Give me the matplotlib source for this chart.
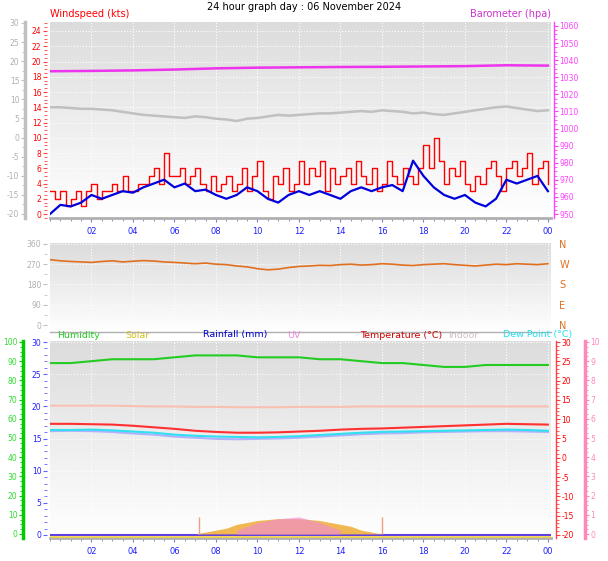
import matplotlib
matplotlib.use("Agg")
import matplotlib.pyplot as plt
import numpy as np
from matplotlib.ticker import MultipleLocator
plt.rcParams["axes.unicode_minus"] = False

hours_hh = np.arange(0, 24.01, 0.5)
hours_q = np.arange(0, 24.01, 0.25)
hours_h = np.arange(0, 25, 1)
hours_2h = np.arange(0, 25, 2)

gust = [3,2,3,1,2,3,1,3,4,2, 3,3,4,3,5,3,3,4,4,5, 6,4,8,5,5,6,4,5,6,4, 3,5,3,4,5,3,4,6,3,5,
        7,3,2,5,4,6,3,4,7,4, 6,5,7,3,6,4,5,6,4,7, 5,4,6,3,4,7,5,4,6,5, 4,6,9,6,10,7,4,6,5,7,
        4,3,5,4,6,7,5,3,6,7, 5,6,8,4,6,7,4]
wind_avg = [0,1.2,1.0,1.5,2.5,2,2.5,3,2.8,3.5,4,4.5,3.5,4,3,3.2,2.5,2,2.5,3.5,3,2,1.5,2.5,3,2.5,
            3,2.5,2,3,3.5,3,3.5,3.8,3,7,5,3.5,2.5,2,2.5,1.5,1,2,4.5,4,4.5,5,3]
gray_line = [14,14,13.9,13.8,13.8,13.7,13.6,13.4,13.2,13,12.9,12.8,12.7,12.6,12.8,12.7,12.5,12.4,
             12.2,12.5,12.6,12.8,13,12.9,13,13.1,13.2,13.2,13.3,13.4,13.5,13.4,13.6,13.5,13.4,13.2,
             13.3,13.1,13,13.2,13.4,13.6,13.8,14,14.1,13.9,13.7,13.5,13.6]
baro = [1033.5,1033.7,1034,1034.5,1035.2,1035.6,1035.8,1036,1036.1,1036.3,1036.5,1037,1036.8]
wdir = [290,285,282,280,278,282,285,280,283,286,284,280,278,275,272,275,270,268,262,258,250,245,
        248,255,260,262,265,264,268,270,266,268,272,270,266,264,268,270,272,268,265,262,266,270,
        268,272,270,268,272]
temp = [8.8,8.8,8.7,8.6,8.3,7.9,7.5,7.0,6.7,6.5,6.5,6.6,6.8,7.0,7.3,7.5,7.6,7.8,8.0,8.2,8.4,8.6,8.8,8.7,8.6]
dew = [7.2,7.2,7.3,7.1,6.8,6.5,6.0,5.7,5.5,5.4,5.3,5.4,5.6,5.9,6.2,6.5,6.7,6.8,6.9,7.0,7.1,7.2,7.3,7.2,7.0]
feels = [6.9,7.0,6.9,6.7,6.3,6.0,5.5,5.2,4.9,4.8,4.9,5.0,5.2,5.5,5.8,6.1,6.3,6.4,6.6,6.7,6.8,6.9,6.9,6.8,6.7]
indoor = [13.5,13.5,13.5,13.5,13.4,13.3,13.3,13.2,13.2,13.1,13.1,13.1,13.2,13.2,13.2,13.3,13.3,13.3,13.3,13.3,13.3,13.3,13.3,13.3,13.3]
humidity = [89,89,90,91,91,91,92,93,93,93,92,92,92,91,91,90,89,89,88,87,87,88,88,88,88]
solar_hours = [7.0,7.5,8,8.5,9,9.5,10,10.5,11,11.5,12,12.5,13,13.5,14,14.5,15,15.5,16]
solar = [0,1,2,3,5,6,7,7.5,8,8,8,7.5,7,6,5,4,2,1,0]
uv_hours = [9,10,11,12,13,14]
uv = [0.2,0.6,0.8,0.9,0.6,0.2]
spike_hours = [7.2, 16.0]
spike_heights = [9, 9]
xlabels = ["02","04","06","08","10","12","14","16","18","20","22","00"]

W, H = 608, 561
fig = plt.figure(figsize=(W/100, H/100), dpi=100)
fig.patch.set_facecolor("white")

def mkax(top, bot):
    return fig.add_axes([50/W, 1-bot/H, 501/W, (bot-top)/H])

grad = np.linspace(0, 1, 100).reshape(-1, 1)
from matplotlib.colors import LinearSegmentedColormap
cm = LinearSegmentedColormap.from_list("g", ["#dcdcdc", "#ffffff"])

def style(ax, labels=True):
    ax.imshow(grad, extent=[0, 1, 0, 1], transform=ax.transAxes, cmap=cm, aspect="auto", zorder=0)
    ax.set_xlim(0, 24.15)
    ax.set_xticks(np.arange(2, 25, 2))
    ax.xaxis.set_minor_locator(MultipleLocator(0.5))
    ax.set_xticklabels(xlabels if labels else [], fontsize=6, color="#2020ff")
    ax.tick_params(axis="x", which="both", colors="#8080c0", labelcolor="#2020ff", length=3)
    ax.tick_params(axis="x", which="minor", length=2)
    ax.grid(True, color="white", linestyle=":", linewidth=0.8)
    for s in ["top", "right"]:
        ax.spines[s].set_visible(False)
    ax.spines["left"].set_visible(False)
    ax.spines["bottom"].set_color("#b0b0b0")
    ax.spines["bottom"].set_linewidth(2)

def side(ax, pos, color, lw=1.0, label_color=None, side_="left"):
    ax.spines[side_].set_visible(True)
    ax.spines[side_].set_position(("axes", pos))
    ax.spines[side_].set_color(color)
    ax.spines[side_].set_linewidth(lw)
    ax.yaxis.set_ticks_position(side_)
    ax.tick_params(axis="y", which="both", colors=color, labelcolor=label_color or color,
                   labelsize=5.5, length=3, pad=1)
    ax.tick_params(axis="y", which="minor", length=2)

# ---------- top panel ----------
ax1 = mkax(22, 218)
style(ax1)
ax1.set_ylim(-0.52, 25.18)
ax1.set_yticks(np.arange(0, 25, 2))
ax1.yaxis.set_minor_locator(MultipleLocator(0.5))
side(ax1, -0.006, "#ff4040", 1.0, "#ff0000")
ax1.spines["left"].set_visible(False)
ax1.step(hours_q, gust, where="post", color="#ff0000", lw=1.0, zorder=3)
ax1.plot(hours_hh, wind_avg, color="#0000dd", lw=1.6, zorder=4)
ax1.plot(hours_hh, gray_line, color="#c0c0c0", lw=1.8, zorder=2)

axg = ax1.twinx()
axg.set_ylim(-21.05, 30.26)
axg.set_yticks(np.arange(-20, 31, 5))
axg.yaxis.set_minor_locator(MultipleLocator(2.5))
for s in ["top", "right", "bottom"]:
    axg.spines[s].set_visible(False)
side(axg, -0.05, "#c0c0c0", 2.5, "#b0b0b0")

axb = ax1.twinx()
axb.set_ylim(947.7, 1062.3)
axb.set_yticks(np.arange(950, 1061, 10))
axb.yaxis.set_minor_locator(MultipleLocator(2.5))
for s in ["top", "left", "bottom"]:
    axb.spines[s].set_visible(False)
side(axb, 1.006, "#ff40ff", 1.0, "#ff40ff", "right")
axb.plot(hours_2h, baro, color="#ee33ee", lw=1.8, zorder=3)

fig.text(0.5, 1-7/H, "24 hour graph day : 06 November 2024", ha="center", va="center", fontsize=7)
fig.text(50/W, 1-14/H, "Windspeed (kts)", color="#ff0000", fontsize=7, va="center")
fig.text(551/W, 1-14/H, "Barometer (hpa)", color="#cc33cc", fontsize=7, va="center", ha="right")

# ---------- middle panel ----------
ax2 = mkax(243, 332)
style(ax2, labels=False)
ax2.spines["bottom"].set_linewidth(1)
ax2.tick_params(axis="x", which="both", length=0)
ax2.set_ylim(-31, 364)
ax2.set_yticks([0, 90, 180, 270, 360])
ax2.yaxis.set_minor_locator(MultipleLocator(45))
side(ax2, -0.006, "#c0c0c0", 1.0, "#b0b0b0")
ax2.spines["left"].set_visible(False)
ax2.plot(hours_hh, wdir, color="#e07020", lw=1.2, zorder=3)
axd = ax2.twinx()
axd.set_ylim(-31, 364)
axd.set_yticks([0, 90, 180, 270, 360])
axd.set_yticklabels(["N", "E", "S", "W", "N"])
for s in ["top", "left", "bottom", "right"]:
    axd.spines[s].set_visible(False)
axd.tick_params(axis="y", length=0, labelcolor="#e07020", labelsize=7, pad=6)

# ---------- bottom panel ----------
ax3 = mkax(341, 538)
style(ax3)
ax3.set_ylim(-0.47, 30.16)
ax3.set_yticks(np.arange(0, 31, 5))
ax3.yaxis.set_minor_locator(MultipleLocator(1))
side(ax3, -0.006, "#6060ff", 1.0, "#2020ff")
ax3.spines["left"].set_visible(False)
ax3.axhline(0, color="#6040e0", lw=1.5, zorder=4)
ax3.axhline(-0.3, color="#f0d040", lw=1.2, zorder=4)

axh = ax3.twinx()
axh.set_ylim(-2.1, 100.5)
axh.set_yticks(np.arange(0, 101, 10))
axh.yaxis.set_minor_locator(MultipleLocator(2.5))
for s in ["top", "right", "bottom"]:
    axh.spines[s].set_visible(False)
side(axh, -0.054, "#00cc00", 2.5, "#30dd30")
axh.fill_between(solar_hours, 0, solar, color="#f0b040", alpha=0.9, lw=0, zorder=2)
axh.vlines(spike_hours, 0, spike_heights, color="#f0a080", lw=1)
axh.plot(hours_h, humidity, color="#22cc22", lw=1.5, zorder=3)

axu = ax3.twinx()
axu.set_ylim(-0.2, 10.05)
axu.set_yticks(np.arange(0, 11, 1))
axu.yaxis.set_minor_locator(MultipleLocator(0.25))
for s in ["top", "left", "bottom"]:
    axu.spines[s].set_visible(False)
side(axu, 1.068, "#ff88bb", 2.5, "#ff88bb", "right")
axu.fill_between(uv_hours, 0, uv, color="#ee88dd", alpha=0.6, lw=0)

axt = ax3.twinx()
axt.set_ylim(-20.78, 30.26)
axt.set_yticks(np.arange(-20, 31, 5))
axt.yaxis.set_minor_locator(MultipleLocator(1))
for s in ["top", "left", "bottom"]:
    axt.spines[s].set_visible(False)
side(axt, 1.01, "#ff4040", 1.0, "#ff0000", "right")
axt.plot(hours_h, indoor, color="#f8c0b0", lw=1.5)
axt.plot(hours_h, feels, color="#b0b0ff", lw=1.5)
axt.plot(hours_h, dew, color="#30e0f0", lw=1.5)
axt.plot(hours_h, temp, color="#ff3030", lw=1.5)

legend_items = [("Humidity", "#22cc22", 57), ("Solar", "#d4c020", 125),
                ("Rainfall (mm)", "#0000cc", 203), ("UV", "#ee88dd", 287),
                ("Temperature (°C)", "#cc0000", 360), ("Indoor", "#d0c0c0", 448),
                ("Dew Point (°C)", "#20e0f0", 503)]
for txt, c, x in legend_items:
    fig.text(x/W, 1-335/H, txt, color=c, fontsize=6.8, va="center")

fig.savefig("out.png", dpi=100)
